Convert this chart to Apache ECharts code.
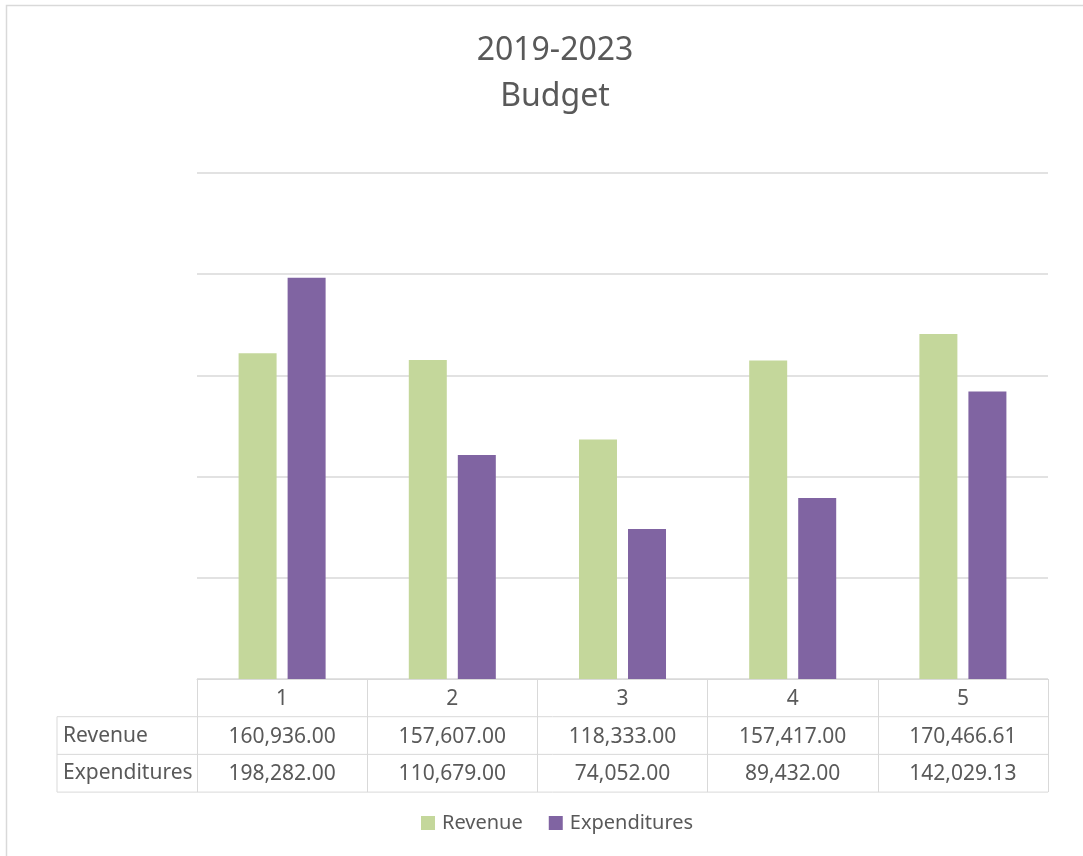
<!DOCTYPE html>
<html>
<head>
<meta charset="utf-8">
<title>2019-2023 Budget</title>
<script src="https://cdn.jsdelivr.net/npm/echarts@6/dist/echarts.min.js"></script>
<style>
  html, body { margin: 0; padding: 0; background: #fff; }
  #chart { width: 1083px; height: 856px; }
</style>
</head>
<body>
<div id="chart"></div>
<script>
// data
const categories = ['1', '2', '3', '4', '5']
const revenue = [160936, 157607, 118333, 157417, 170466.61]
const expenditures = [198282, 110679, 74052, 89432, 142029.13]
const seriesNames = ['Revenue', 'Expenditures']

const FONT = 'Noto Sans'
const TEXT = '#595959'
const LINE = '#d9d9d9'

// plot area in pixels
const GRID_LEFT = 197
const GRID_RIGHT = 35
const GRID_TOP = 173
const GRID_BOTTOM = 177
const BASE_Y = 856 - GRID_BOTTOM
const RIGHT_X = 1083 - GRID_RIGHT
const ROW_H = 37.7
const LABEL_COL_X = 57

const fmt = v => v.toLocaleString('en-US', { minimumFractionDigits: 2, maximumFractionDigits: 2 })

const chart = echarts.init(document.getElementById('chart'))

const option = {
  backgroundColor: '#fff',
  animation: false,
  textStyle: { fontFamily: FONT, color: TEXT },
  title: {
    text: '2019-2023\nBudget',
    left: 550,
    top: 23,
    textAlign: 'center',
    textStyle: { fontFamily: FONT, fontSize: 32, fontWeight: 'normal', color: TEXT, lineHeight: 46 }
  },
  legend: {
    data: seriesNames,
    left: 416,
    top: 808,
    itemWidth: 14,
    itemHeight: 14,
    itemGap: 26,
    icon: 'rect',
    textStyle: { fontFamily: FONT, fontSize: 20, color: TEXT, padding: [0, 0, 0, 2] }
  },
  grid: {
    left: GRID_LEFT,
    right: GRID_RIGHT,
    top: GRID_TOP,
    bottom: GRID_BOTTOM,
    containLabel: false
  },
  xAxis: {
    type: 'category',
    data: categories,
    axisLine: { show: true, lineStyle: { color: LINE, width: 1 } },
    axisTick: { show: true, interval: 0, length: ROW_H * 3, lineStyle: { color: LINE, width: 1 } },
    axisLabel: {
      interval: 0,
      margin: 1,
      formatter: (v, i) => `{h|${v}}\n{v|${fmt(revenue[i])}}\n{v|${fmt(expenditures[i])}}`,
      rich: {
        h: { fontFamily: FONT, fontSize: 21, color: TEXT, lineHeight: ROW_H },
        v: { fontFamily: FONT, fontSize: 21, color: TEXT, lineHeight: ROW_H }
      }
    }
  },
  yAxis: {
    type: 'value',
    min: 0,
    max: 250000,
    interval: 50000,
    axisLabel: { show: false },
    axisLine: { show: false },
    axisTick: { show: false },
    splitLine: { show: true, lineStyle: { color: LINE, width: 1.5 } }
  },
  series: [
    {
      name: seriesNames[0],
      type: 'bar',
      data: revenue,
      barWidth: 38,
      barGap: '29%',
      itemStyle: { color: '#c4d79b' }
    },
    {
      name: seriesNames[1],
      type: 'bar',
      data: expenditures,
      barWidth: 38,
      itemStyle: { color: '#8064a2' }
    }
  ],
  graphic: [
    // chart outline
    {
      type: 'rect',
      shape: { x: 6.5, y: 5.5, width: 1200, height: 1000 },
      style: { fill: 'none', stroke: LINE, lineWidth: 1.5 },
      silent: true
    },
    // data table row lines
    ...[1, 2, 3].map(r => ({
      type: 'line',
      shape: { x1: LABEL_COL_X, y1: BASE_Y + ROW_H * r, x2: RIGHT_X, y2: BASE_Y + ROW_H * r },
      style: { stroke: LINE, lineWidth: 1 },
      silent: true
    })),
    {
      type: 'line',
      shape: { x1: LABEL_COL_X, y1: BASE_Y + ROW_H, x2: LABEL_COL_X, y2: BASE_Y + ROW_H * 3 },
      style: { stroke: LINE, lineWidth: 1 },
      silent: true
    },
    // row headers
    ...seriesNames.map((name, r) => ({
      type: 'text',
      x: LABEL_COL_X + 6,
      y: BASE_Y + ROW_H * (r + 1.5),
      style: { text: name, fontFamily: FONT, fontSize: 21, fill: TEXT, verticalAlign: 'middle', align: 'left' },
      silent: true
    }))
  ]
}

chart.setOption(option)
</script>
</body>
</html>
